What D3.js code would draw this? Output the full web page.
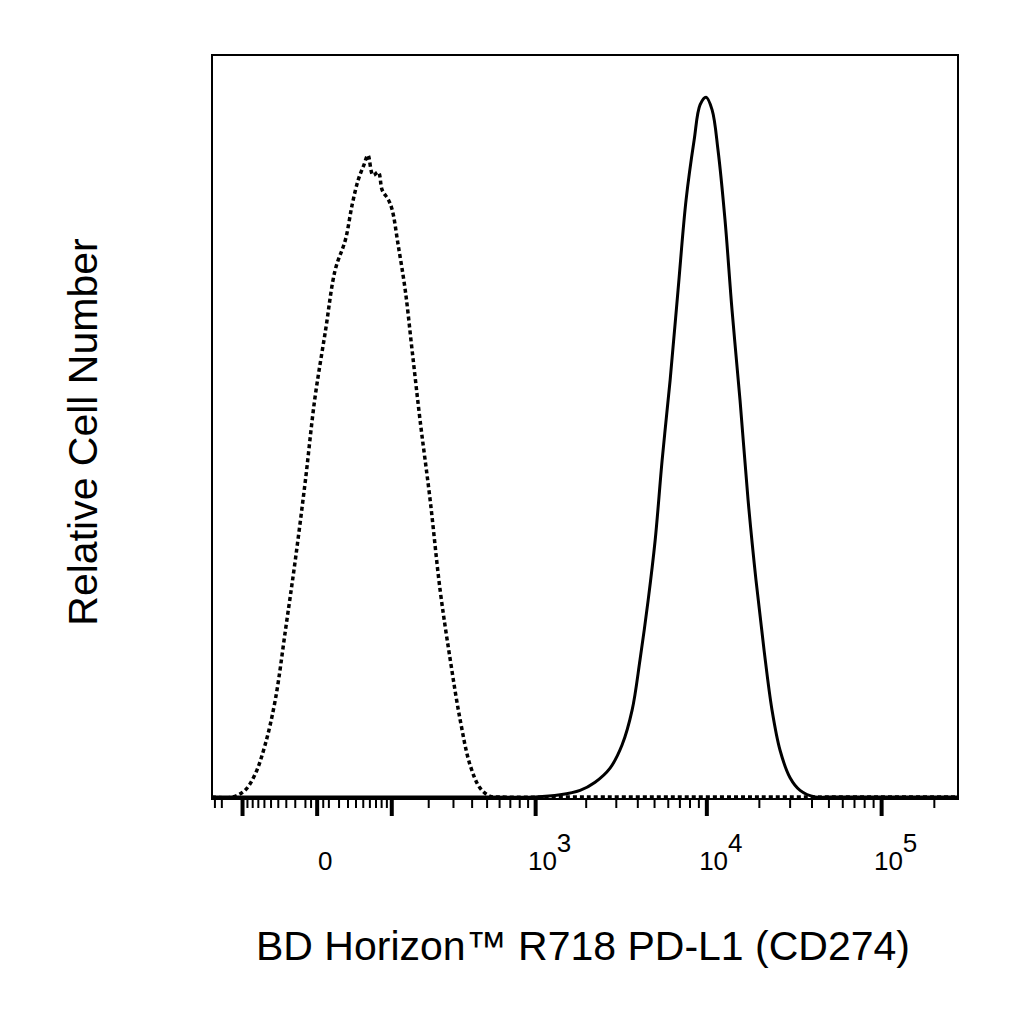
<!DOCTYPE html>
<html><head><meta charset="utf-8">
<script src="https://cdn.jsdelivr.net/npm/d3@7"></script>
<style>body{margin:0;background:#fff}text{font-family:"Liberation Sans",Arial,sans-serif;fill:#000}</style>
</head><body><svg id="c" width="1024" height="1024"></svg>
<script>
const isoX=[-179,-123,-95,-76,-59,-44,-31,-20,-10,-2,7,16,27,35,43,51,57,65,74,81,93,101,114,131,149,172,205,242,285,333,388,451,523,605,2000,20000,270000];
const isoY=[0,0,0.9,3.0,7.0,13.1,22.5,31.9,42.7,53.5,62.9,71.0,75.1,79.8,83.2,85.2,86.5,83.8,84.2,81.8,80.5,79.1,74.4,68.3,60.2,50.8,40.0,27.9,18.5,10.4,4.3,1.2,0.1,0,0,0,0];
const pdX=[-179,500,993,1402,1841,2256,2760,3240,3707,4120,4590,5040,5530,6150,6830,7600,8450,9150,9900,10720,11590,12710,13950,15500,17240,19140,21280,23640,26270,29970,34190,41680,50740,270000];
const pdY=[0,0,0,0.3,0.9,2.0,3.9,7.0,11.7,18.5,26.5,34.6,45.4,56.2,68.3,80.5,88.5,93.3,94.3,92.6,87.2,77.8,65.6,53.5,40.0,29.2,19.8,11.7,6.3,2.6,0.9,0,0,0];
const majorTicks=[-100,0,100,1000,10000,100000];
const minorTicks=[-170,-150,-90,-80,-70,-60,-50,-40,-30,-20,-10,-5,5,10,20,30,40,50,60,70,80,90,200,300,400,500,600,700,800,900,2000,3000,4000,5000,6000,7000,8000,9000,20000,30000,40000,50000,60000,70000,80000,90000,200000];
const tickLabels=[{v:0,b:"0",e:""},{v:1000,b:"10",e:"3"},{v:10000,b:"10",e:"4"},{v:100000,b:"10",e:"5"}];

const svg=d3.select("#c");
const L=212,R=958,T=55,B=799;
const x=d3.scaleSymlog().constant(60).domain([-179,273000]).range([L,R]);
const y=d3.scaleLinear().domain([0,100]).range([797,T+0]);
const line=d3.line().x((d,i)=>x(d[0])).y(d=>y(d[1])).curve(d3.curveCatmullRom);
svg.append("path").datum(isoX.map((v,i)=>[v,isoY[i]])).attr("d",line)
  .attr("fill","none").attr("stroke","#000").attr("stroke-width",3.5).attr("stroke-dasharray","4,3");
svg.append("path").datum(pdX.map((v,i)=>[v,pdY[i]])).attr("d",line)
  .attr("fill","none").attr("stroke","#000").attr("stroke-width",3);
svg.append("rect").attr("x",L).attr("y",T).attr("width",R-L).attr("height",B-T)
  .attr("fill","none").attr("stroke","#000").attr("stroke-width",2);
const g=svg.append("g");
g.selectAll(".mn").data(minorTicks).join("line").attr("x1",d=>x(d)).attr("x2",d=>x(d))
 .attr("y1",B).attr("y2",B+9).attr("stroke","#000").attr("stroke-width",2);
g.selectAll(".mj").data(majorTicks).join("line").attr("x1",d=>x(d)).attr("x2",d=>x(d))
 .attr("y1",B).attr("y2",B+17).attr("stroke","#000").attr("stroke-width",4);
tickLabels.forEach(t=>{
  const tx=svg.append("text").attr("x",x(t.v)+(t.e?14:8)).attr("y",870).attr("font-size",26).attr("text-anchor","middle");
  tx.append("tspan").text(t.b);
  if(t.e) tx.append("tspan").attr("dy",-18).attr("font-size",26).text(t.e);
});
svg.append("text").attr("x",583).attr("y",960).attr("font-size",41).attr("text-anchor","middle").text("BD Horizon™ R718 PD-L1 (CD274)");
svg.append("text").attr("transform","translate(97,432) rotate(-90)").attr("font-size",41).attr("text-anchor","middle").text("Relative Cell Number");
</script></body></html>
